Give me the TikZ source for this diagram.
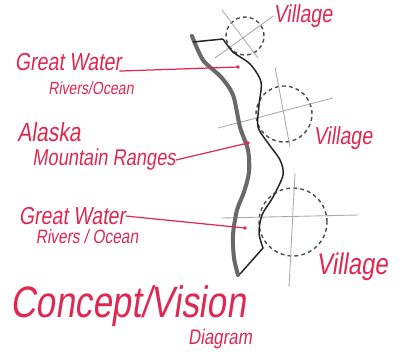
\documentclass[tikz,border=0pt]{standalone}
\usepackage{fontspec}
\newfontfamily\handfont[FakeStretch=0.8,FakeSlant=0.15]{Liberation Sans}
\usetikzlibrary{positioning}
\definecolor{marker}{RGB}{222,40,82}
\definecolor{ridge}{RGB}{105,105,105}
\definecolor{guide}{RGB}{170,170,170}
\tikzset{
  hand/.style={text=marker,font=\handfont\fontsize{#1}{#1}\selectfont,inner sep=0pt},
  hand/.default=14,
  leader/.style={marker,line width=0.7pt},
  ridge line/.style={draw=ridge,line width=2.3pt,line cap=round,line join=round},
  coast/.style={draw=black!85,line width=0.85pt,line join=round},
  site/.style={circle,draw=black!70,dash pattern=on 2.2pt off 1.8pt,line width=0.8pt,
    minimum size=#1,inner sep=0pt},
  guide line/.style={guide,line width=0.5pt},
}

\begin{document}
\begin{tikzpicture}[x=0.2mm,y=-0.2mm]
  \useasboundingbox (0,0) rectangle (402,360);
  % villages
  \node[site=7.6mm] (c1) at (245,36) {};
  \node[site=11.2mm] (c2) at (284,114) {};
  \node[site=13.6mm] (c3) at (293,222) {};
  % labels
  \node[hand=14] (vtop) at (303,16) {Village};
  \node[hand=14] (vmid) at (343,138) {Village};
  \node[hand=17] (vbot) at (352,267) {Village};
  \node[hand=14] (gw1) at (68,62) {Great Water};
  \node[hand=10] (rv1) at (91,88) {Rivers/Ocean};
  \node[hand=15] (ak) at (49,132) {Alaska};
  \node[hand=13] (mr) at (104,160) {Mountain Ranges};
  \node[hand=14] (gw2) at (72,216) {Great Water};
  \node[hand=11] (rv2) at (87,237) {Rivers / Ocean};
  \node[hand=25] (title) at (128,306) {Concept/Vision};
  \node[hand=12] (sub) at (220,339) {Diagram};
  % cross lines
  \draw[guide line] (222,10) -- (258,58);
  \draw[guide line] (215,58) -- (vtop.west);
  \draw[guide line] (275,67) -- (290,147);
  \draw[guide line] (218,128) -- (333,98);
  \draw[guide line] (295,173) -- (289,287);
  \draw[guide line] (222,218) -- (358,215);
  % mountain ridge and coast
  \draw[ridge line] plot[smooth] coordinates {(192,36) (203,60) (221,77) (233,95)
    (240,127) (248,150) (249,172) (244,192) (237,210) (233,235) (234,258) (238,275)};
  \draw[coast] (193,42) -- (223,39);
  \draw[coast] plot[smooth] coordinates {(223,39) (233,52) (250,64) (261,82) (259,105)
    (258,127) (268,143) (280,160) (283,175) (273,197) (262,215) (259,233) (263,248)}
    -- (240,274);
  % leaders
  \coordinate (w1) at (238,67);
  \coordinate (m1) at (248,143);
  \coordinate (w2) at (245,228);
  \draw[leader] (gw1.-10) -- (w1);
  \draw[leader] (mr.east) -- (m1);
  \draw[leader] (gw2.east) -- (w2);
  \fill[marker] (w1) circle (1.1pt) (m1) circle (1.1pt) (w2) circle (1.1pt);
\end{tikzpicture}
\end{document}
